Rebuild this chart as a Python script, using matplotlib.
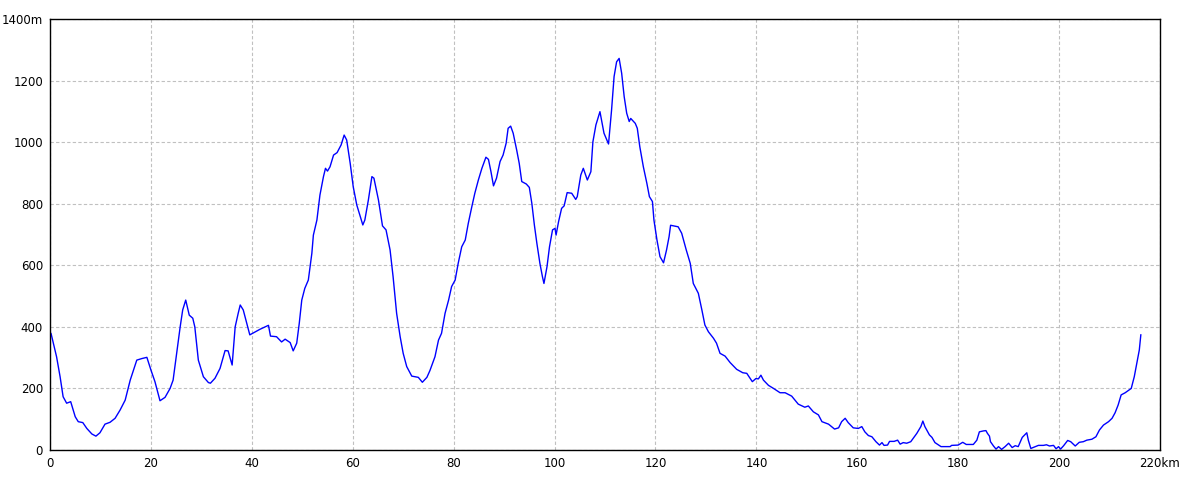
import numpy as np
import matplotlib as mpl
import matplotlib.pyplot as plt

# distance (km) and elevation (m)
dist = [0.0, 0.2, 1.3, 2.0, 2.6, 3.3, 4.1, 5.0, 5.6, 6.5, 7.3, 8.3, 9.1, 9.9, 10.9,
        11.9, 12.9, 13.9, 14.9, 15.9, 17.2, 18.2, 19.2, 20.0, 20.8, 21.8, 22.8, 23.8,
        24.4, 25.1, 25.8, 26.3, 26.9, 27.6, 28.3, 28.7, 29.4, 30.4, 31.4, 31.8, 32.7,
        33.7, 34.7, 35.3, 36.1, 36.7, 37.3, 37.7, 38.3, 39.0, 39.6, 41.6, 43.3, 43.7,
        44.9, 45.9, 46.6, 47.6, 48.2, 48.9, 49.4, 49.9, 50.5, 51.2, 51.9, 52.2, 52.9,
        53.5, 54.2, 54.6, 55.0, 55.5, 56.2, 56.9, 57.7, 58.3, 58.8, 59.5, 60.1, 60.8,
        61.6, 62.0, 62.4, 63.1, 63.8, 64.2, 65.1, 65.9, 66.6, 67.4, 68.0, 68.7, 69.4,
        70.0, 70.7, 71.7, 73.0, 73.8, 74.7, 75.3, 76.3, 77.0, 77.6, 78.3, 79.0, 79.6,
        80.3, 80.9, 81.6, 82.3, 82.9, 83.6, 84.2, 84.9, 85.6, 86.4, 86.9, 87.4, 87.9,
        88.5, 89.2, 89.8, 90.4, 90.8, 91.3, 91.8, 92.5, 93.0, 93.5, 94.4, 95.0, 95.5,
        96.0, 96.5, 97.1, 97.6, 97.9, 98.5, 99.0, 99.6, 100.1, 100.3, 100.8, 101.4,
        101.9, 102.5, 103.4, 104.2, 104.5, 105.2, 105.7, 106.5, 107.2, 107.6, 108.2,
        109.0, 109.8, 110.7, 111.3, 111.8, 112.3, 112.8, 113.3, 113.8, 114.3, 114.8,
        115.1, 116.0, 116.4, 116.9, 117.6, 118.3, 118.8, 119.4, 119.7, 120.3, 120.9,
        121.6, 122.2, 122.7, 123.0, 124.5, 125.2, 126.1, 126.9, 127.5, 128.5, 129.2,
        129.8, 130.5, 131.5, 132.1, 132.8, 133.8, 134.8, 136.1, 137.3, 138.1, 139.2,
        139.9, 140.4, 140.9, 141.4, 142.4, 143.4, 144.7, 145.7, 147.0, 148.3, 149.6,
        150.3, 151.3, 152.3, 153.0, 154.3, 155.5, 156.3, 156.9, 157.6, 158.2, 159.2,
        160.2, 160.9, 161.5, 162.2, 162.9, 163.7, 164.4, 164.9, 165.3, 166.0, 166.4,
        167.3, 168.0, 168.5, 169.1, 169.8, 170.6, 171.8, 172.6, 173.0, 173.4, 174.3,
        174.8, 175.4, 176.6, 178.4, 178.7, 180.0, 180.9, 181.6, 183.0, 183.7, 184.2,
        185.0, 185.5, 185.8, 186.2, 186.4, 187.0, 187.5, 188.0, 188.6, 189.3, 190.0,
        190.7, 191.3, 191.9, 192.7, 193.6, 193.9, 194.4, 195.0, 195.9, 196.9, 197.5,
        198.1, 198.9, 199.4, 199.9, 200.3, 200.9, 201.7, 202.3, 203.2, 204.0, 204.8,
        205.5, 206.5, 207.3, 208.0, 208.8, 209.8, 210.5, 211.1, 211.7, 212.3, 213.1,
        214.3, 214.9, 215.4, 215.9, 216.2]
elev = [380, 379, 303, 238, 173, 152, 157, 108, 92, 89, 70, 52, 45, 56, 84,
        90, 103, 130, 162, 227, 292, 297, 301, 260, 222, 160, 171, 200,
        227, 314, 400, 455, 487, 438, 428, 400, 292, 238, 219, 217, 233,
        265, 323, 322, 276, 400, 444, 471, 455, 411, 374, 392, 405, 370,
        368, 351, 360, 349, 322, 347, 411, 487, 525, 552, 639, 698, 747,
        828, 888, 915, 906, 920, 958, 966, 991, 1023, 1007, 931, 855, 796,
        753, 731, 747, 812, 888, 883, 812, 728, 715, 650, 563, 444, 368,
        314, 271, 240, 236, 220, 236, 258, 303, 357, 379, 444, 487, 531,
        552, 606, 660, 682, 736, 790, 834, 877, 915, 951, 944, 904, 858,
        883, 937, 958, 996, 1045, 1052, 1029, 974, 931, 872, 864, 853, 801,
        731, 671, 606, 563, 541, 595, 660, 715, 720, 698, 742, 785,
        793, 836, 834, 814, 823, 893, 915, 877, 904, 1001, 1056,
        1099, 1029, 994, 1104, 1213, 1261, 1272, 1224, 1148, 1094, 1067,
        1077, 1061, 1045, 985, 920, 866, 823, 807, 747, 682, 628,
        608, 650, 693, 730, 725, 704, 650, 606, 541, 509, 455,
        406, 384, 363, 347, 314, 305, 284, 262, 251, 249, 222,
        232, 231, 243, 227, 210, 200, 186, 186, 175, 149, 139,
        143, 124, 114, 92, 84, 68, 72, 92, 103, 89, 72,
        70, 76, 59, 47, 43, 27, 16, 24, 15, 16, 28,
        28, 32, 19, 24, 22, 27, 54, 76, 94, 76, 49,
        41, 24, 11, 11, 15, 16, 25, 18, 18, 32, 59,
        62, 63, 54, 45, 27, 13, 3, 11, 2, 11, 22,
        8, 14, 11, 41, 56, 32, 5, 9, 15, 15, 17,
        13, 15, 4, 11, 3, 14, 31, 27, 13, 25, 27,
        32, 35, 43, 65, 81, 92, 103, 121, 146, 179, 186,
        200, 238, 282, 325, 374]

xticks = [0, 20, 40, 60, 80, 100, 120, 140, 160, 180, 200, 220]
xlabels = ['0', '20', '40', '60', '80', '100', '120', '140', '160', '180', '200', '220km']
yticks = [0, 200, 400, 600, 800, 1000, 1200, 1400]
ylabels = ['0', '200', '400', '600', '800', '1000', '1200', '1400m']

mpl.rcParams['font.family'] = 'DejaVu Sans'
fig = plt.figure(figsize=(12, 4.8), dpi=100)
ax = fig.add_axes([50 / 1200, 30 / 480, 1110 / 1200, 431 / 480])

ax.plot(dist, elev, color='#0000ff', lw=1.0)

ax.set_xlim(0, 220)
ax.set_ylim(0, 1400)
ax.set_xticks(xticks, xlabels)
ax.set_yticks(yticks, ylabels)
ax.tick_params(length=0, labelsize=8.5, pad=5)
ax.grid(True, color='#c0c0c0', ls=(0, (3, 2)), lw=0.8)
for s in ax.spines.values():
    s.set_color('black')
    s.set_linewidth(1.0)

fig.savefig('out.png', dpi=100)
